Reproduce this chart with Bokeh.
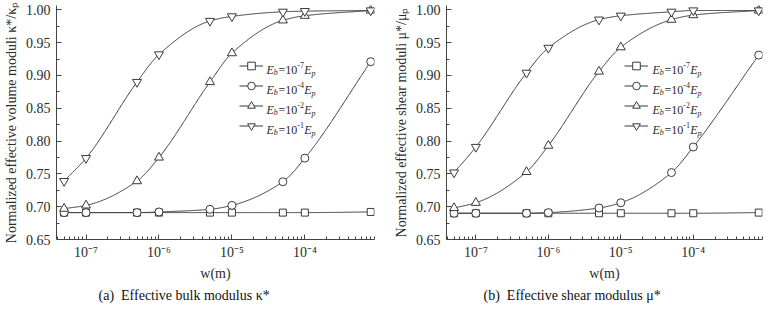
import numpy as np
from bokeh.plotting import figure
from bokeh.layouts import row
from bokeh.models import (Range1d, FixedTicker, CustomJSTickFormatter, Legend, LegendItem,
                          Label, Title, PrintfTickFormatter)
from bokeh.embed import file_html
from bokeh.resources import INLINE

# ---------------- data ----------------
w = [5e-8, 1e-7, 5e-7, 1e-6, 5e-6, 1e-5, 5e-5, 1e-4, 8e-4]

bulk_eb7 = [0.691, 0.691, 0.691, 0.691, 0.691, 0.691, 0.691, 0.691, 0.692]
bulk_eb4 = [0.691, 0.691, 0.691, 0.692, 0.696, 0.702, 0.738, 0.774, 0.921]
bulk_eb2 = [0.697, 0.702, 0.739, 0.775, 0.890, 0.934, 0.984, 0.991, 0.999]
bulk_eb1 = [0.739, 0.774, 0.890, 0.932, 0.983, 0.990, 0.997, 0.998, 0.999]

shear_eb7 = [0.690, 0.690, 0.690, 0.690, 0.690, 0.690, 0.690, 0.690, 0.691]
shear_eb4 = [0.690, 0.690, 0.690, 0.691, 0.698, 0.706, 0.752, 0.791, 0.931]
shear_eb2 = [0.698, 0.706, 0.753, 0.793, 0.906, 0.943, 0.985, 0.992, 0.999]
shear_eb1 = [0.752, 0.791, 0.904, 0.942, 0.985, 0.991, 0.997, 0.999, 0.999]

series_exps = ["-7", "-4", "-2", "-1"]
markers = ["square", "circle", "triangle", "inverted_triangle"]
marker_sizes = [7, 8, 9, 9]

y_ticks = [0.65, 0.70, 0.75, 0.80, 0.85, 0.90, 0.95, 1.00]
y_minor = [0.675, 0.725, 0.775, 0.825, 0.875, 0.925, 0.975]
x_ticks = [1e-7, 1e-6, 1e-5, 1e-4]
x_minor = [m * 10.0 ** e for e in range(-8, -3) for m in range(2, 10)]

LINE = "#3a3a3a"
TXT = "#2b2b2b"
FONT = "Liberation Serif"


def pchip(x, y, xn):
    x = np.asarray(x, float); y = np.asarray(y, float)
    h = np.diff(x); d = np.diff(y) / h
    n = len(x); m = np.zeros(n)
    for k in range(1, n - 1):
        if d[k - 1] * d[k] <= 0:
            m[k] = 0.0
        else:
            w1 = 2 * h[k] + h[k - 1]; w2 = h[k] + 2 * h[k - 1]
            m[k] = (w1 + w2) / (w1 / d[k - 1] + w2 / d[k])
    m[0] = d[0]; m[-1] = d[-1]
    idx = np.clip(np.searchsorted(x, xn) - 1, 0, n - 2)
    t = (xn - x[idx]) / h[idx]
    h00 = 2 * t**3 - 3 * t**2 + 1; h10 = t**3 - 2 * t**2 + t
    h01 = -2 * t**3 + 3 * t**2; h11 = t**3 - t**2
    return h00 * y[idx] + h10 * h[idx] * m[idx] + h01 * y[idx + 1] + h11 * h[idx] * m[idx + 1]


def make_panel(series, ylabel, caption, mbl, mbr, fw, leg_x, txt_x, cap_off):
    p = figure(x_axis_type="log", output_backend="svg", toolbar_location=None,
               frame_width=fw, frame_height=234,
               min_border_left=mbl, min_border_right=mbr, min_border_top=5, min_border_bottom=68,
               x_range=Range1d(10 ** -7.405, 10 ** -3.045), y_range=Range1d(0.65, 1.0066))
    p.outline_line_color = None
    p.xgrid.visible = False
    p.ygrid.visible = False
    p.background_fill_color = "white"

    lw = np.log10(np.array(w))
    xs = np.linspace(lw[0], lw[-1], 400)
    items = []
    for vals, mk, ms in zip(series, markers, marker_sizes):
        yy = pchip(lw, vals, xs)
        lr = p.line(10 ** xs, yy, line_color=LINE, line_width=1)
        sr = p.scatter(w, vals, marker=mk, size=ms, line_color=LINE, fill_color="white", line_width=1)
        items.append(LegendItem(label=" ", renderers=[lr, sr]))

    leg = Legend(items=items, location=(leg_x, 104), orientation="vertical",
                 glyph_width=24, glyph_height=19, label_height=19, spacing=1,
                 padding=0, margin=0, border_line_color=None, background_fill_alpha=0,
                 label_text_font_size="6px", label_standoff=0)
    p.add_layout(leg, "center")

    # legend texts E_b=10^x E_p
    n = len(series)
    for i, ex in enumerate(series_exps):
        yc = 104 + (n - i - 0.5) * 20
        base = yc - 4
        pieces = [("E", 0.0, 0, 12, "italic"), ("b", 7.3, -3, 8, "italic"),
                  ("=10", 12.0, 0, 12, "normal"), (ex, 30.8, 4.8, 8, "normal"),
                  ("E", 37.8, 0, 12, "italic"), ("p", 45.0, -3.5, 8, "italic")]
        for t, dx, dy, fs, st in pieces:
            p.add_layout(Label(x=txt_x + dx, y=base + dy, x_units="screen", y_units="screen",
                               text=t, text_font=FONT, text_font_size=f"{fs}px",
                               text_font_style=st, text_color=TXT, text_baseline="alphabetic",
                               text_align="left"))

    xa = p.xaxis[0]
    xa.ticker = FixedTicker(ticks=x_ticks, minor_ticks=x_minor)
    xa.formatter = CustomJSTickFormatter(code="""
        const e = Math.round(Math.log10(tick));
        const sup = {'-':'\u207b','0':'\u2070','1':'\u00b9','2':'\u00b2','3':'\u00b3','4':'\u2074',
                     '5':'\u2075','6':'\u2076','7':'\u2077','8':'\u2078','9':'\u2079'};
        return '10' + String(e).split('').map(c => sup[c]).join('');
    """)
    ya = p.yaxis[0]
    ya.ticker = FixedTicker(ticks=y_ticks, minor_ticks=y_minor)
    ya.formatter = PrintfTickFormatter(format="%.2f")
    for ax in (xa, ya):
        ax.axis_line_color = "#444444"
        ax.major_tick_line_color = "#444444"
        ax.minor_tick_line_color = "#444444"
        ax.major_tick_in = 5
        ax.major_tick_out = 0
        ax.minor_tick_in = 3
        ax.minor_tick_out = 0
        ax.major_label_text_font = FONT
        ax.major_label_text_font_size = "14px"
        ax.major_label_text_color = TXT
        ax.axis_label_text_font = FONT
        ax.axis_label_text_font_size = "14px"
        ax.axis_label_text_font_style = "normal"
        ax.axis_label_text_color = TXT
        ax.major_label_standoff = 6
        ax.axis_label_standoff = 4
    xa.axis_label = "w(m)"
    xa.major_label_standoff = 5
    xa.axis_label_standoff = 3
    ya.axis_label = ylabel

    cap = Title(text=caption, align="left", offset=cap_off, text_font=FONT,
                text_font_size="14px", text_font_style="normal", text_color="#111111",
                standoff=4)
    p.add_layout(cap, "below")
    return p


p1 = make_panel([bulk_eb7, bulk_eb4, bulk_eb2, bulk_eb1],
                "Normalized effective volume moduli \u03ba*/\u03ba\u209a",
                "(a)\u00a0\u00a0Effective bulk modulus \u03ba*", 51, 16, 318, 183, 210, 42)
p2 = make_panel([shear_eb7, shear_eb4, shear_eb2, shear_eb1],
                "Normalized effective shear moduli \u03bc*/\u03bc\u209a",
                "(b)\u00a0\u00a0Effective shear modulus \u03bc*", 56, 4, 316, 178, 206, 37)

p = row(p1, p2)
open("out.html", "w", encoding="utf-8").write(file_html(p, INLINE))
